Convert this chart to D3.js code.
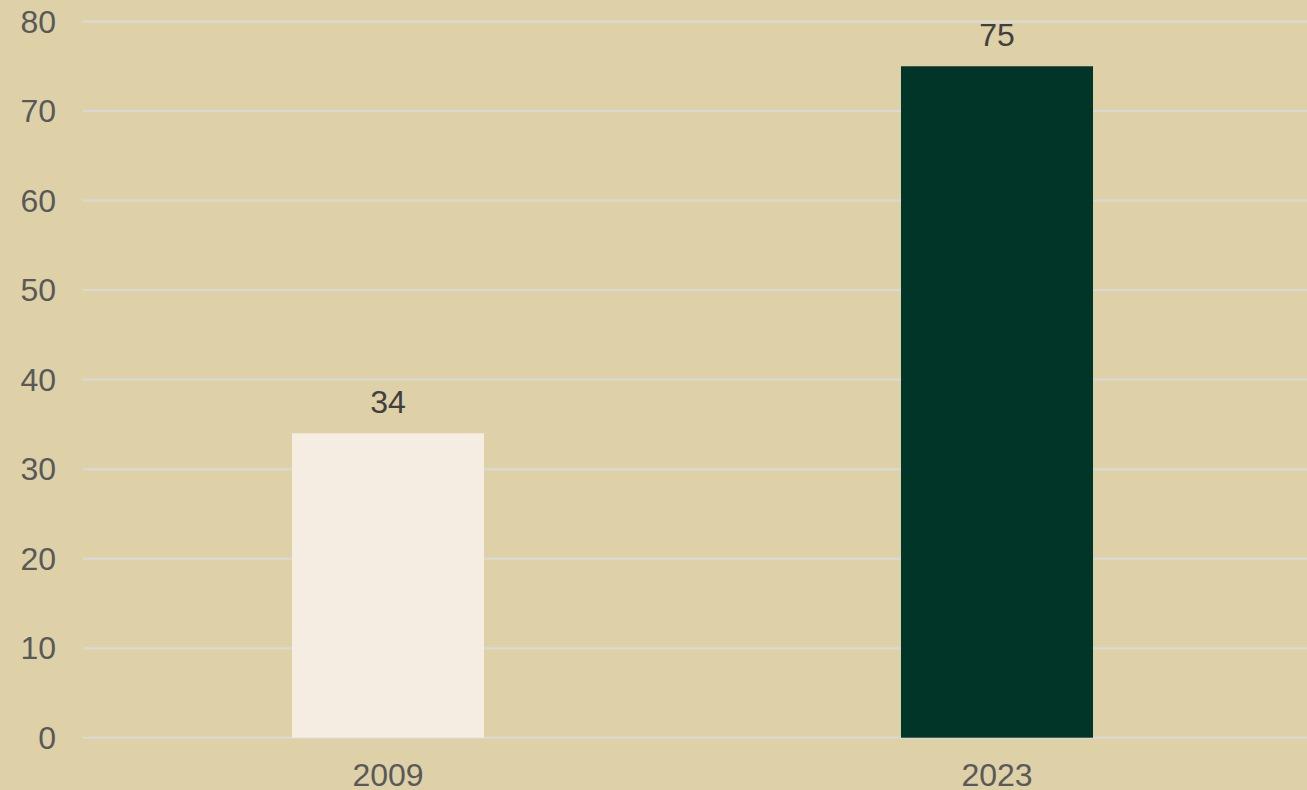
<!DOCTYPE html>
<html>
<head>
<meta charset="utf-8">
<script src="https://cdn.jsdelivr.net/npm/d3@7"></script>
<style>
  html, body { margin: 0; padding: 0; background: #DED1A8; }
  svg { display: block; }
</style>
</head>
<body>
<svg id="chart" width="1307" height="790"></svg>
<script>
const categories = ["2009", "2023"];
const values = [34, 75];
const barColors = ["#F5ECE2", "#003527"];
const yTicks = [0, 10, 20, 30, 40, 50, 60, 70, 80];

const W = 1307, H = 790;
const svg = d3.select("#chart");
svg.append("rect").attr("width", W).attr("height", H).attr("fill", "#DED1A8");

const y = d3.scaleLinear().domain([0, 80]).range([737.7, 21.5]);
const x = d3.scaleBand().domain(categories).range([83.5, 1301.5])
  .paddingInner(0.6847).paddingOuter(0.34235);

const font = "'Liberation Sans', Arial, sans-serif";
const fs = 32;

// gridlines
svg.append("g").selectAll("line").data(yTicks).join("line")
  .attr("x1", 83).attr("x2", W)
  .attr("y1", d => y(d)).attr("y2", d => y(d))
  .attr("stroke", "#D9D9D9").attr("stroke-width", 2);

// y axis labels
svg.append("g").selectAll("text").data(yTicks).join("text")
  .attr("x", 56).attr("y", d => y(d))
  .attr("dy", "0.35em")
  .attr("text-anchor", "end")
  .attr("font-family", font).attr("font-size", fs)
  .attr("fill", "#595959")
  .text(d => d);

// bars
svg.append("g").selectAll("rect").data(values).join("rect")
  .attr("x", (d, i) => x(categories[i]))
  .attr("width", x.bandwidth())
  .attr("y", d => y(d))
  .attr("height", d => y(0) - y(d))
  .attr("fill", (d, i) => barColors[i]);

// value labels
svg.append("g").selectAll("text").data(values).join("text")
  .attr("x", (d, i) => x(categories[i]) + x.bandwidth() / 2)
  .attr("y", d => y(d) - 20)
  .attr("text-anchor", "middle")
  .attr("font-family", font).attr("font-size", fs)
  .attr("fill", "#404040")
  .text(d => d);

// x labels
svg.append("g").selectAll("text").data(categories).join("text")
  .attr("x", d => x(d) + x.bandwidth() / 2)
  .attr("y", 786)
  .attr("text-anchor", "middle")
  .attr("font-family", font).attr("font-size", fs)
  .attr("fill", "#595959")
  .text(d => d);
</script>
</body>
</html>
